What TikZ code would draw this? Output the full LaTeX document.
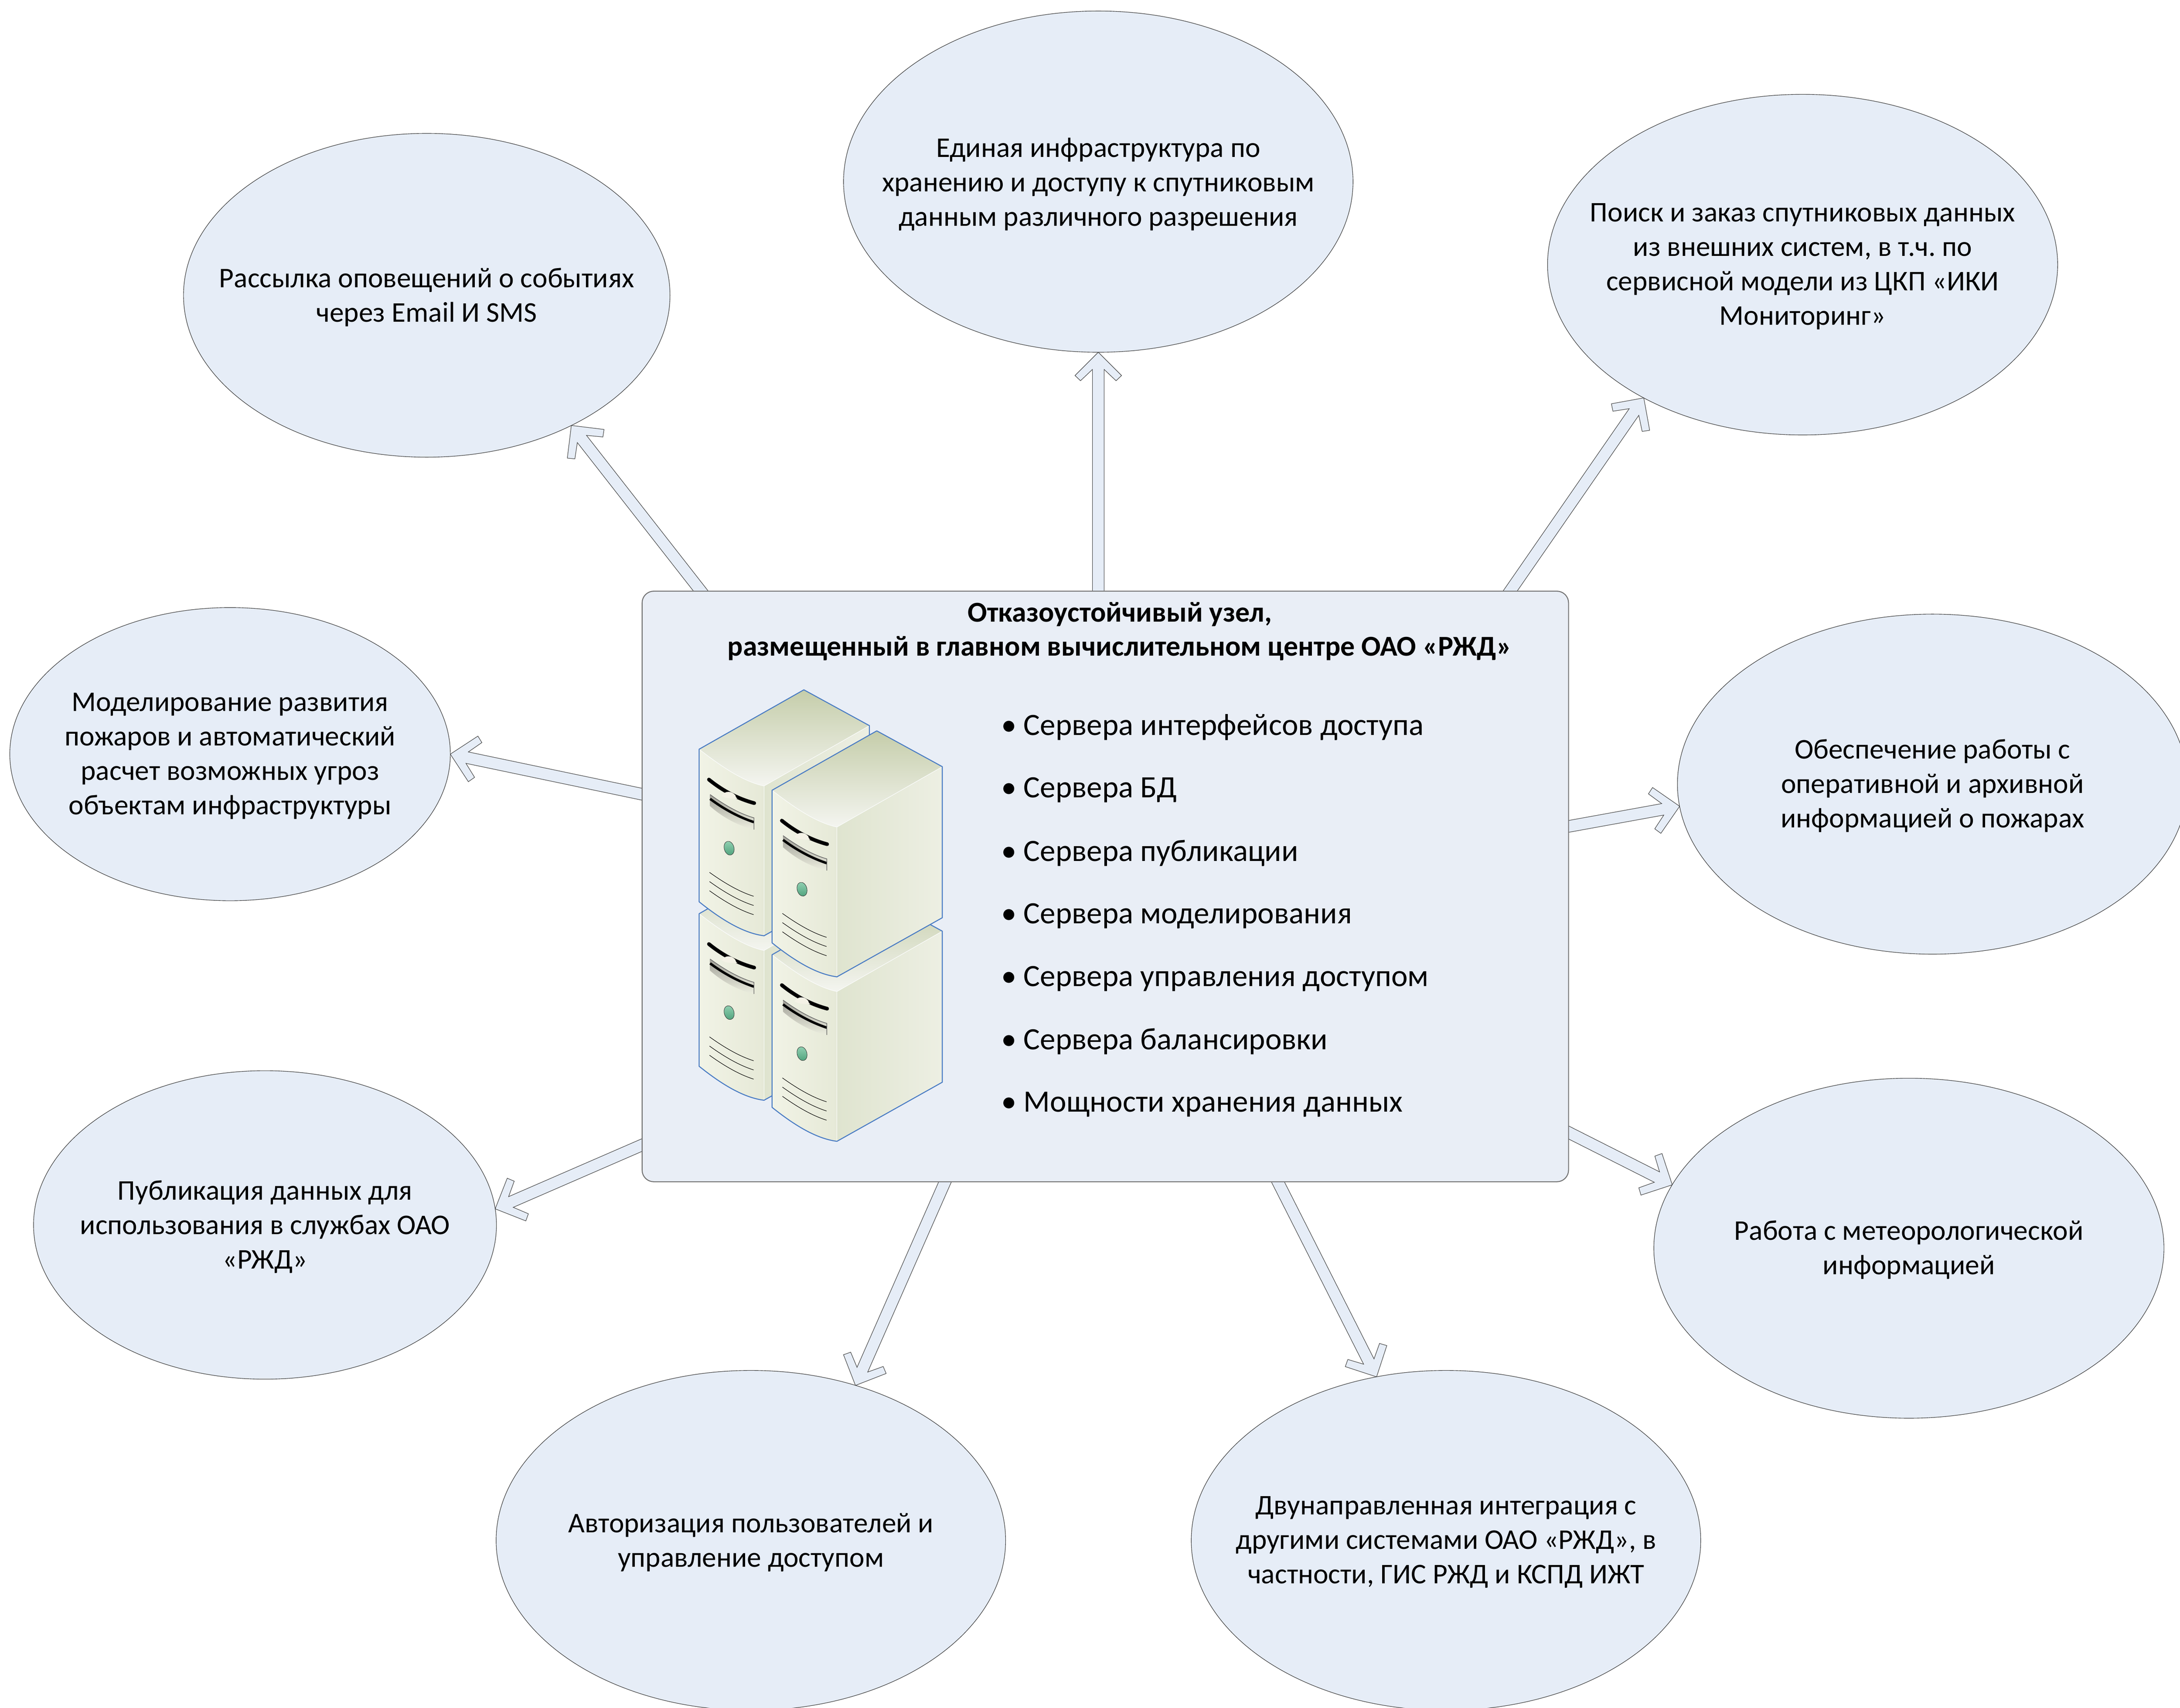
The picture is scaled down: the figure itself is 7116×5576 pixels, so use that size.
\documentclass[tikz,border=0pt]{standalone}
\usepackage{fontspec}
\setmainfont{Carlito}
\frenchspacing
\usetikzlibrary{shapes.geometric,backgrounds,calc}
\definecolor{ellfill}{HTML}{E6EDF7}
\definecolor{mainfill}{HTML}{E9EEF6}
\definecolor{edgegray}{HTML}{707070}
\definecolor{srvblue}{HTML}{4A7CC4}
\definecolor{c5cdaa}{HTML}{C5CDAA}
\definecolor{f4f5f0}{HTML}{F4F5F0}
\definecolor{dfe4cf}{HTML}{DFE4CF}
\definecolor{edefe3}{HTML}{EDEFE3}
\definecolor{f1f3e6}{HTML}{F1F3E6}
\definecolor{e6e9d7}{HTML}{E6E9D7}
\definecolor{f4f2e6}{HTML}{F4F2E6}
\definecolor{8e8e86}{HTML}{A09F97}
\definecolor{eceedf}{HTML}{ECEEDF}
\definecolor{8fcfb0}{HTML}{8FCFB0}
\definecolor{4fa27c}{HTML}{4FA27C}
\def\pxu{0.01cm}
\tikzset{
  ell/.style={draw=black!80,line width=1.6*\pxu,fill=ellfill,ellipse,inner sep=0pt,outer sep=0pt},
  txt/.style={align=center,inner sep=0pt,font=\fontsize{26.5}{32}\selectfont,text=black,yshift=-6*\pxu},
  listtxt/.style={anchor=west,inner sep=0pt,font=\fontsize{28.8}{32}\selectfont,text=black},
  mainbox/.style={draw=edgegray,line width=3*\pxu,fill=mainfill,rounded corners=38*\pxu,inner sep=0pt,outer sep=0pt,minimum width=3024*\pxu,minimum height=1928*\pxu},
  harrowstyle/.style={draw=black!75,line width=1.6*\pxu,fill=ellfill,line join=miter},
  srvline/.style={draw=black,line width=1.6*\pxu},
  srvwhite/.style={draw=white!90!ellfill,line width=1.6*\pxu}
}
\newcommand\harrow[2]{%
  \draw[harrowstyle] let \p1=(#1),\p2=(#2),\n1={atan2(\y2-\y1,\x2-\x1)},\n2={veclen(\x2-\x1,\y2-\y1)} in
    [shift={(\x2,\y2)},rotate=\n1]
    (0,0) -- (-76,76) -- (-93,58) -- (-56,19) -- ({-\n2*1pt-30*\pxu},19) -- ({-\n2*1pt-30*\pxu},-19) -- (-56,-19) -- (-93,-58) -- (-76,-76) -- cycle;}
\newcommand\srv[2]{%
  \begin{scope}[shift={(#1,#2)}]
    % top face
    \shade[top color=c5cdaa,bottom color=f4f5f0] (0,0) -- (342,-194) -- (556,-77) -- (212,120) .. controls (140,105) and (65,50) .. (0,0) -- cycle;
    % right face
    \shade[left color=dfe4cf,right color=edefe3] (212,120) -- (556,-77) -- (556,416) -- (212,609) -- cycle;
    % front face
    \shade[left color=f1f3e6,right color=e6e9d7] (0,0) .. controls (65,50) and (140,105) .. (212,120) -- (212,609) .. controls (140,600) and (65,550) .. (0,498) -- cycle;
    \draw[srvwhite] (0,0) .. controls (65,50) and (140,105) .. (212,120) -- (556,-77);
    \draw[srvwhite] (212,120) -- (212,609);
    % black strip and highlight
    \draw[black,line width=12*\pxu,line cap=round] (32,99) .. controls (70,130) and (120,160) .. (180,176);
    \fill[f4f2e6] (73,152) .. controls (85,135) and (105,135) .. (118,150) .. controls (120,157) and (122,160) .. (125,161) .. controls (105,162) and (85,160) .. (73,152) -- cycle;
    % slot
    \shade[top color=8e8e86,bottom color=eceedf] (36,148) .. controls (80,180) and (130,210) .. (179,224) -- (179,262) .. controls (130,250) and (80,225) .. (36,186) -- cycle;
    \draw[black,line width=8*\pxu] (36,162) .. controls (80,195) and (130,222) .. (179,238);
    \draw[black!60,line width=2*\pxu] (36,148) .. controls (80,180) and (130,210) .. (179,224) -- (179,262);
    % lamp
    \draw[black!80,line width=1.2*\pxu,top color=8fcfb0,bottom color=4fa27c,rotate around={15:(98,323)}] (98,323) ellipse (16 and 23);
    % vent lines
    \foreach \dy in {0,30,60}{
      \draw[srvline] (34,402+\dy) .. controls (80,435+\dy) and (130,465+\dy) .. (178,480+\dy);
    }
    % outline
    \draw[srvblue,line width=3.2*\pxu,line join=round] (0,0) -- (342,-194) -- (556,-77) -- (556,416) -- (212,609) .. controls (140,600) and (65,550) .. (0,498) -- cycle;
  \end{scope}}
\begin{document}
\begin{tikzpicture}[x=0.01cm,y=-0.01cm]
\useasboundingbox (0,0) rectangle (7116,5576);
% main box
\node[mainbox] (m) at (3608,2894) {};
% ellipses
\node[ell,minimum width=1663*\pxu,minimum height=1114*\pxu,label={[txt,yshift=-3*\pxu]center:{Единая инфраструктура по\\хранению и доступу к спутниковым\\данным различного разрешения}}] (etop) at (3585,593) {};
\node[ell,minimum width=1665*\pxu,minimum height=1112*\pxu,label={[txt]center:{Поиск и заказ спутниковых данных\\из внешних систем, в т.ч. по\\сервисной модели из ЦКП «ИКИ\\Мониторинг»}}] (eur) at (5884,864) {};
\node[ell,minimum width=1588*\pxu,minimum height=1057*\pxu,label={[txt]center:{Рассылка оповещений о событиях\\через Email И SMS}}] (eul) at (1393,964) {};
\node[ell,minimum width=1438*\pxu,minimum height=957*\pxu,label={[txt]center:{Моделирование развития\\пожаров и автоматический\\расчет возможных угроз\\объектам инфраструктуры}}] (el) at (751,2462) {};
\node[ell,minimum width=1665*\pxu,minimum height=1110*\pxu,label={[txt]center:{Обеспечение работы с\\оперативной и архивной\\информацией о пожарах}}] (er) at (6308,2560) {};
\node[ell,minimum width=1665*\pxu,minimum height=1110*\pxu,label={[txt]center:{Работа с метеорологической\\информацией}}] (elr) at (6231,4075) {};
\node[ell,minimum width=1511*\pxu,minimum height=1007*\pxu,label={[txt]center:{Публикация данных для\\использования в службах ОАО\\«РЖД»}}] (ell) at (865,3999) {};
\node[ell,minimum width=1663*\pxu,minimum height=1110*\pxu,label={[txt]center:{Авторизация пользователей и\\управление доступом}}] (eb) at (2451,5029) {};
\node[ell,minimum width=1663*\pxu,minimum height=1110*\pxu,label={[txt]center:{Двунаправленная интеграция с\\другими системами ОАО «РЖД», в\\частности, ГИС РЖД и КСПД ИЖТ}}] (ebr) at (4720,5029) {};
% arrow bases on the main box
\coordinate (stop) at (3585,1930);
\coordinate (sur) at (4929,1930);
\coordinate (sul) at (2288,1930);
\coordinate (sl) at (2096,2593);
\coordinate (sr) at (5120,2698);
\coordinate (slr) at (5120,3697);
\coordinate (sll) at (2096,3738);
\coordinate (sb) at (3085,3858);
\coordinate (sbr) at (4171,3858);
\begin{scope}[on background layer]
\harrow{stop}{etop.-90}
\harrow{sur}{eur.220.3}
\harrow{sul}{eul.-42.4}
\harrow{sl}{el.0}
\harrow{sr}{er.185.5}
\harrow{slr}{elr.165.3}
\harrow{sll}{ell.4.8}
\harrow{sb}{eb.56.9}
\harrow{sbr}{ebr.113.2}
\end{scope}
% heading
\node[txt,font=\fontsize{26.7}{31.6}\selectfont\bfseries] (head) at (3655,2055) {Отказоустойчивый узел,\\размещенный в главном вычислительном центре ОАО «РЖД»};
% servers
\srv{2282}{2983}
\srv{2282}{2446}
\srv{2520}{3117}
\srv{2520}{2580}
% list
\node[listtxt] (l1) at (3268,2374) {•\hspace{0.22em}Сервера интерфейсов доступа};
\node[listtxt] (l2) at (3268,2579) {•\hspace{0.22em}Сервера БД};
\node[listtxt] (l3) at (3268,2785) {•\hspace{0.22em}Сервера публикации};
\node[listtxt] (l4) at (3268,2990) {•\hspace{0.22em}Сервера моделирования};
\node[listtxt] (l5) at (3268,3195) {•\hspace{0.22em}Сервера управления доступом};
\node[listtxt] (l6) at (3268,3400) {•\hspace{0.22em}Сервера балансировки};
\node[listtxt] (l7) at (3268,3605) {•\hspace{0.22em}Мощности хранения данных};
\end{tikzpicture}
\end{document}
